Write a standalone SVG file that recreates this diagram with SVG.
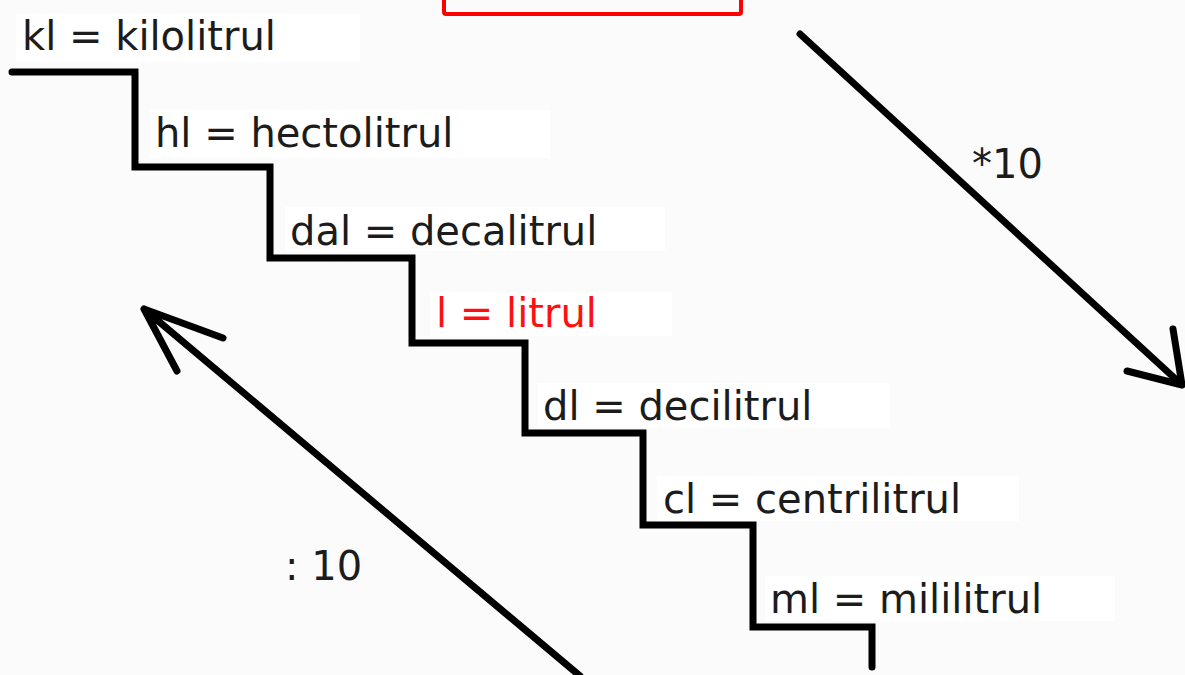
<svg xmlns="http://www.w3.org/2000/svg" width="1185" height="675" viewBox="0 0 1185 675">
  <style>
    .lbl { font-family: "DejaVu Sans", Verdana, sans-serif; font-size: 40px; fill: #1c1c1c; }
    .main { fill: #ff1010; }
    .plate { fill: #ffffff; }
    .stroke { fill: none; stroke: #000000; stroke-width: 7; stroke-linecap: round; }
  </style>
  <rect x="0" y="0" width="1185" height="675" fill="#fbfbfb"/>

  <!-- title frame, cut off at the top edge -->
  <rect x="444" y="-20" width="297" height="34" rx="2" fill="none" stroke="#ff0000" stroke-width="4"/>

  <!-- staircase of units -->
  <g id="stairs">
    <path class="stroke" stroke-linejoin="miter" d="M12 72 H135 V167 H270 V258 H412 V343 H525 V433 H643 V525 H753 V627 H872 V667"/>
  </g>

  <g id="kl">
    <rect class="plate" x="16" y="14" width="344" height="48"/>
    <text class="lbl" x="22" y="50">kl = kilolitrul</text>
  </g>
  <g id="hl">
    <rect class="plate" x="150" y="110" width="400" height="48"/>
    <text class="lbl" x="155" y="147">hl = hectolitrul</text>
  </g>
  <g id="dal">
    <rect class="plate" x="285" y="207" width="380" height="44"/>
    <text class="lbl" x="290" y="245">dal = decalitrul</text>
  </g>
  <g id="l">
    <rect class="plate" x="430" y="292" width="242" height="44"/>
    <text class="lbl main" x="436" y="327">l = litrul</text>
  </g>
  <g id="dl">
    <rect class="plate" x="538" y="383" width="352" height="45"/>
    <text class="lbl" x="543" y="420">dl = decilitrul</text>
  </g>
  <g id="cl">
    <rect class="plate" x="657" y="476" width="362" height="45"/>
    <text class="lbl" x="663" y="513">cl = centrilitrul</text>
  </g>
  <g id="ml">
    <rect class="plate" x="765" y="576" width="350" height="45"/>
    <text class="lbl" x="770" y="613">ml = mililitrul</text>
  </g>

  <!-- conversion arrows -->
  <g id="connectors">
    <path class="stroke" stroke-linejoin="round" d="M800 34 L1182 385 M1173 329 L1182 385 L1127 371"/>
    <path class="stroke" stroke-linejoin="round" d="M580 676 L144 309 M223 338 L144 309 L177 371"/>
  </g>

  <g id="times10">
    <text class="lbl" x="972" y="178">*10</text>
  </g>
  <g id="div10">
    <text class="lbl" x="285" y="580">: 10</text>
  </g>
</svg>
